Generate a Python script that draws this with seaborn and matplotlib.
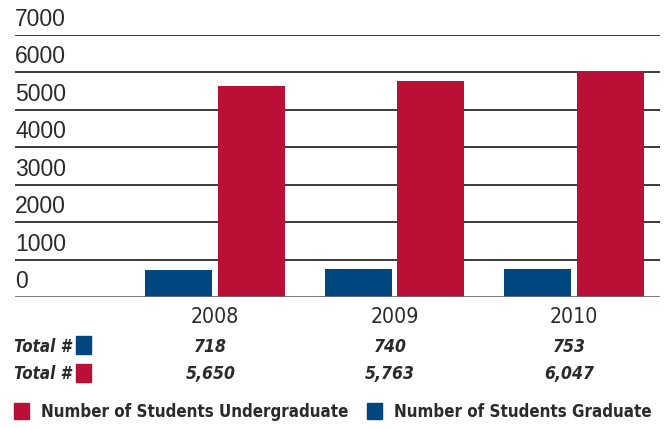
import matplotlib
matplotlib.use("Agg")
import matplotlib.pyplot as plt
import matplotlib.transforms as mtransforms
from matplotlib.patches import Rectangle, Patch
from matplotlib import font_manager as fm
import seaborn as sns
import pandas as pd

# ---- data ----
years = ["2008", "2009", "2010"]
graduate = [718, 740, 753]
undergraduate = [5650, 5763, 6047]
graduate_labels = ["718", "740", "753"]
undergraduate_labels = ["5,650", "5,763", "6,047"]
yticks = [0, 1000, 2000, 3000, 4000, 5000, 6000, 7000]
series_names = ["Number of Students Graduate", "Number of Students Undergraduate"]

BLUE = "#00467F"
RED = "#BA1036"
TXT = "#2a2a2a"

df = pd.DataFrame({
    "Year": years * 2,
    "Value": graduate + undergraduate,
    "Series": [series_names[0]] * 3 + [series_names[1]] * 3,
})

sns.set_theme(style="white")
plt.rcParams["font.family"] = ["Liberation Sans", "DejaVu Sans"]

W, H = 667, 428
fig = plt.figure(figsize=(W / 100, H / 100), dpi=100)
ax = fig.add_axes([15 / W, 1 - 297 / H, (660 - 15) / W, (297 - 35) / H])

sns.barplot(data=df, x="Year", y="Value", hue="Series", hue_order=series_names,
            palette=[BLUE, RED], width=0.812, gap=0.081, saturation=1,
            ax=ax, legend=False, zorder=3, linewidth=0)

ax.set_xlim(-1.114, 2.479)
ax.set_ylim(0, 7000)
for s in ax.spines.values():
    s.set_visible(False)

# gridlines
for v in yticks[1:]:
    ax.axhline(v, color="#3a3a3a", lw=1.4, zorder=1)
ax.axhline(0, color="#6e6e6e", lw=2.0, zorder=4)

# y labels above gridlines
ax.set_yticks(yticks)
ax.set_yticklabels([])
ax.tick_params(axis="y", length=0)
off = mtransforms.ScaledTranslation(0, 9 / 100, fig.dpi_scale_trans)
ytrans = mtransforms.blended_transform_factory(ax.transAxes, ax.transData) + off
for v in yticks:
    ax.text(0.0, v, str(v), transform=ytrans, ha="left", va="baseline",
            fontsize=16.5, color=TXT)

def cond(**kw):
    return fm.FontProperties(family="DejaVu Sans", stretch="condensed", **kw)

# x labels (years)
ax.set_xlabel("")
ax.set_ylabel("")
ax.tick_params(axis="x", length=0, pad=7)
ax.set_xticks(range(len(years)))
ax.set_xticklabels(years, color=TXT, fontproperties=cond(size=15.2))

# table rows
rtrans = mtransforms.blended_transform_factory(ax.transData, fig.transFigure)
row_y = [1 - 347 / H, 1 - 374 / H]
for ry, labels in zip(row_y, [graduate_labels, undergraduate_labels]):
    fig.text(14 / W, ry, "Total #", ha="left", va="center", color=TXT,
             fontproperties=cond(size=12.2, weight="bold", style="italic"))
    for i, lab in enumerate(labels):
        ax.text(i - 0.025, ry, lab, transform=rtrans, ha="center", va="center",
                color=TXT,
                fontproperties=cond(size=12.6, weight="bold", style="italic"))
fig.patches.append(Rectangle((76 / W, 1 - 354 / H), 15 / W, 18 / H,
                             transform=fig.transFigure, color=BLUE))
fig.patches.append(Rectangle((76 / W, 1 - 382 / H), 15 / W, 18 / H,
                             transform=fig.transFigure, color=RED))

# legend
handles = [Patch(color=RED, label=series_names[1]),
           Patch(color=BLUE, label=series_names[0])]
fig.legend(handles=handles, loc="center left",
           bbox_to_anchor=(14 / W, 1 - 412 / H), ncol=2, frameon=False,
           borderpad=0, borderaxespad=0, handlelength=0.89, handleheight=1.06,
           handletextpad=0.72, columnspacing=1.06,
           prop=cond(size=12.2, weight="bold"),
           labelcolor=TXT)

fig.savefig("out.png", dpi=100)
